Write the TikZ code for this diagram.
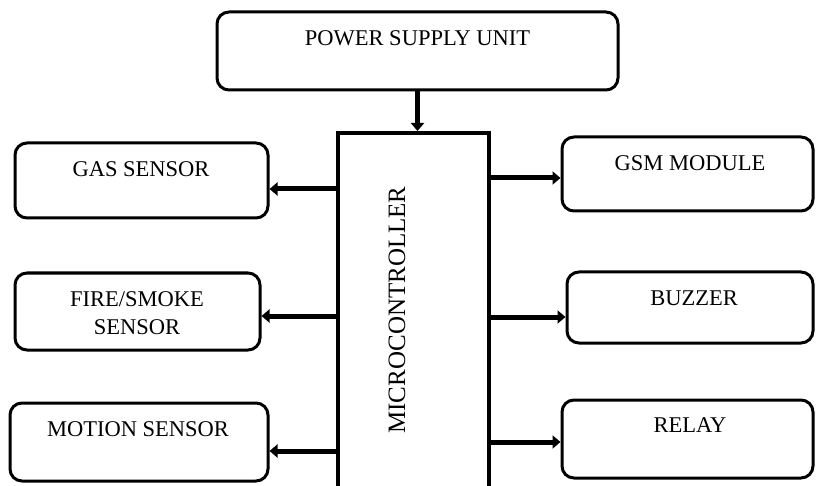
\documentclass[tikz,border=0pt]{standalone}
\usepackage{fontspec}
\setmainfont{Liberation Serif}
\usetikzlibrary{arrows.meta}
\begin{document}
\begin{tikzpicture}[x=1pt,y=-1pt,
  box/.style={draw,line width=3pt,rounded corners=12pt,inner sep=0pt},
  lbl/.style={font=\fontsize{22.5}{28}\selectfont,align=center,inner sep=0pt},
  conn/.style={line width=5pt,-{Triangle[length=8pt,width=13pt]}}]
\useasboundingbox (0,0) rectangle (816,486);
% boxes
\node[box,minimum width=401pt,minimum height=78pt] (psu) at (417.5,51) {};
\node[lbl] (psuT) at (417.5,38) {POWER SUPPLY UNIT};
\node[draw,line width=4pt,minimum width=151pt,minimum height=356pt,inner sep=0pt] (mc) at (413.5,311) {};
\node[lbl,rotate=90,font=\fontsize{25}{28}\selectfont] (mcT) at (397,310) {MICROCONTROLLER};
\node[box,minimum width=253pt,minimum height=75pt] (gas) at (141.5,180.5) {};
\node[lbl] (gasT) at (141,169) {GAS SENSOR};
\node[box,minimum width=245pt,minimum height=77pt] (fire) at (137.5,311.5) {};
\node[lbl] (fireT) at (137,313) {FIRE/SMOKE\\SENSOR};
\node[box,minimum width=258pt,minimum height=78pt] (mot) at (139,442) {};
\node[lbl] (motT) at (138,429) {MOTION SENSOR};
\node[box,minimum width=251pt,minimum height=74pt] (gsm) at (687.5,174) {};
\node[lbl] (gsmT) at (690,163) {GSM MODULE};
\node[box,minimum width=246pt,minimum height=71pt] (buz) at (690,307.5) {};
\node[lbl] (buzT) at (694,298) {BUZZER};
\node[box,minimum width=251pt,minimum height=78pt] (rel) at (687.5,439) {};
\node[lbl] (relT) at (690,425) {RELAY};
% connectors
\draw[conn] (psu.south) -- (psu.south |- mc.north);
\draw[conn] (mc.west |- 0,189) -- (gas.east |- 0,189);
\draw[conn] (mc.west |- 0,316) -- (fire.east |- 0,316);
\draw[conn] (mc.west |- 0,451) -- (mot.east |- 0,451);
\draw[conn] (mc.east |- 0,178) -- (gsm.west |- 0,178);
\draw[conn] (mc.east |- 0,317) -- (buz.west |- 0,317);
\draw[conn] (mc.east |- 0,442) -- (rel.west |- 0,442);
\end{tikzpicture}
\end{document}
